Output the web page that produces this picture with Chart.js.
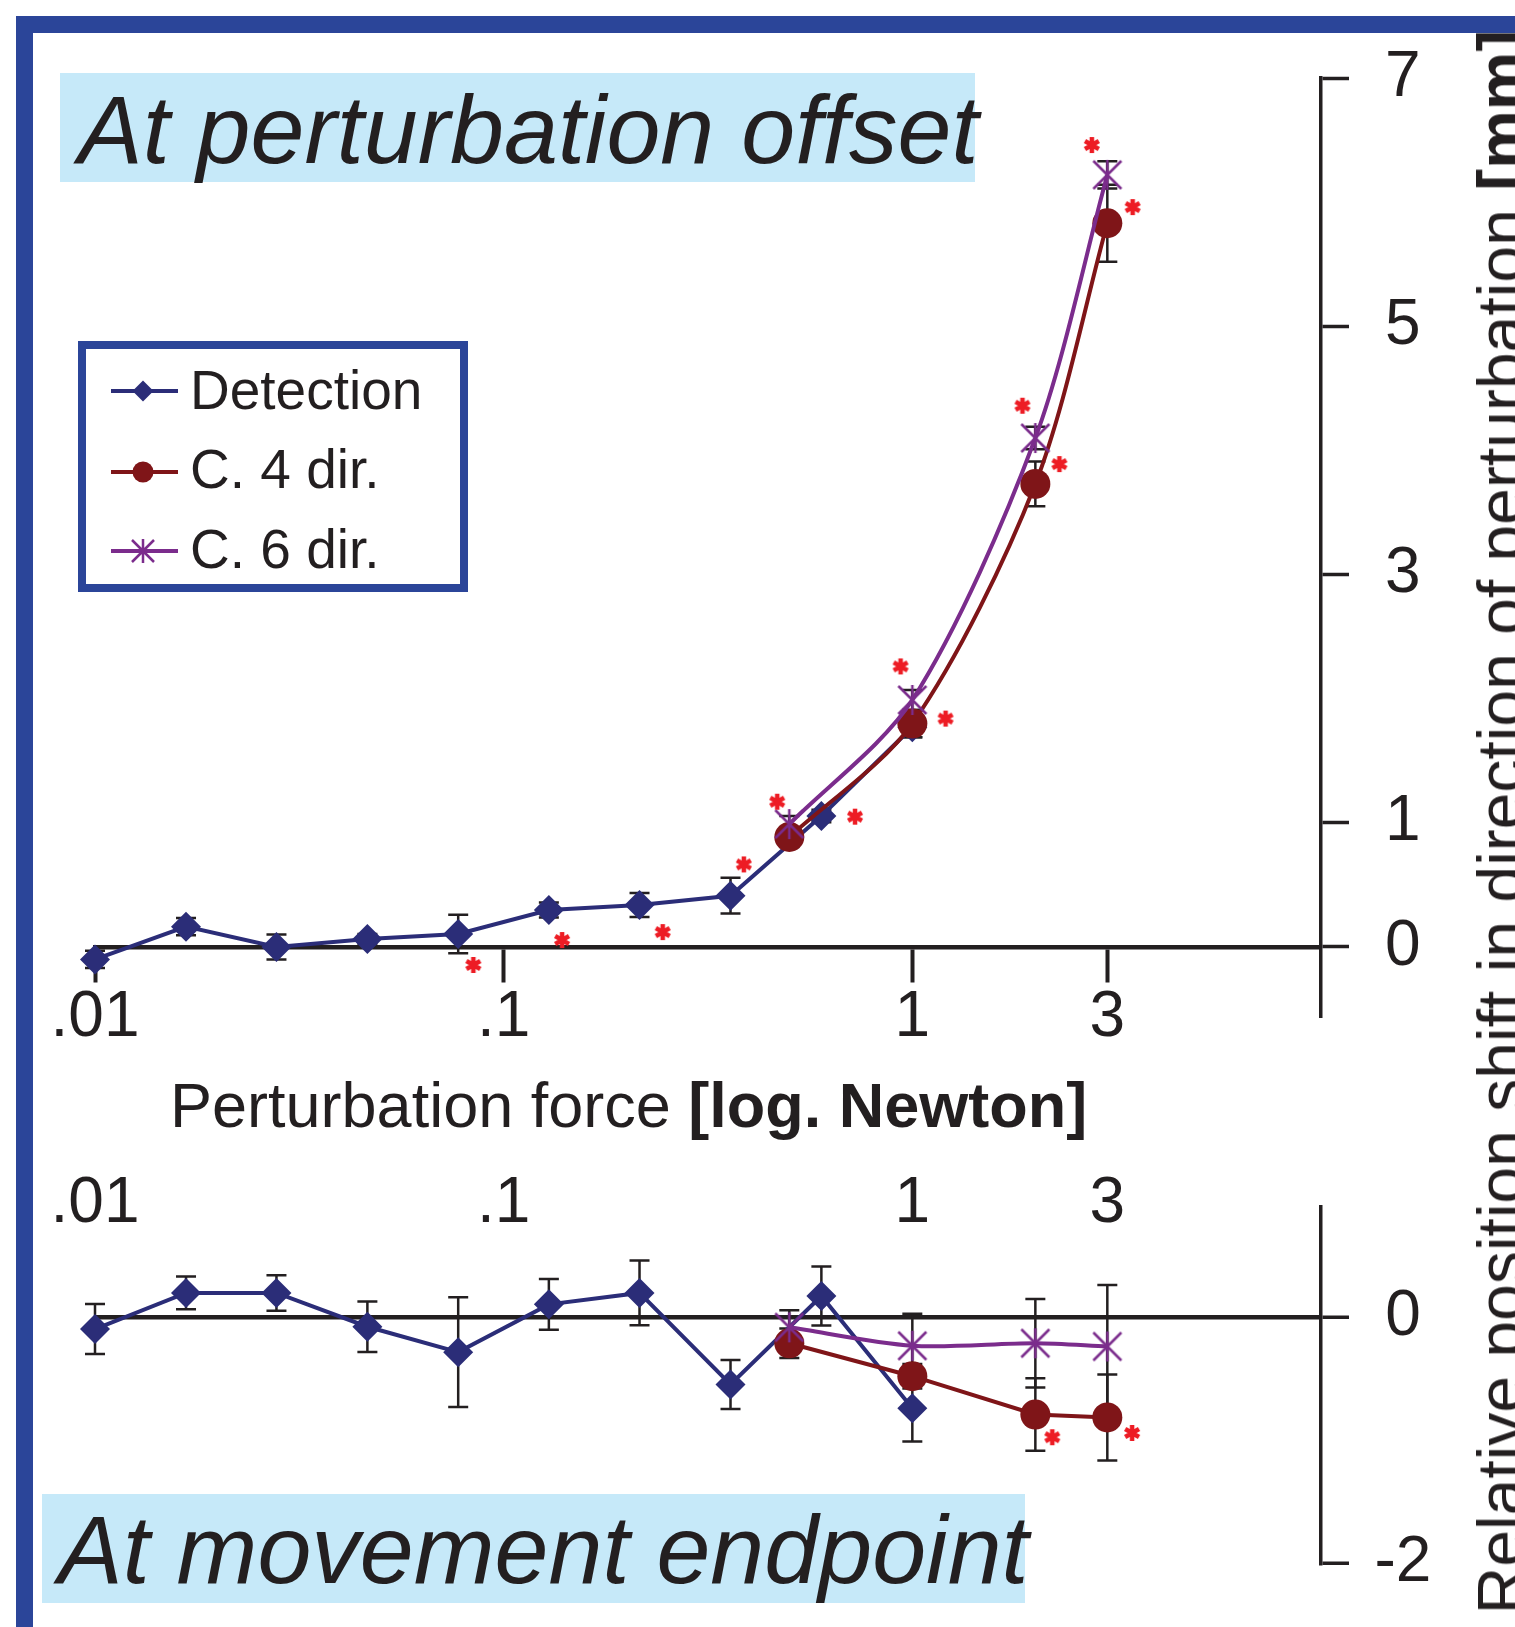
<!DOCTYPE html>
<html>
<head>
<meta charset="UTF-8">
<title>Position shift by perturbation force</title>
<style>
	html, body { margin:0; padding:0; background:#fff; }
	body { width:1515px; height:1627px; position:relative; overflow:hidden; font-family:'Liberation Sans', Arial, sans-serif; color:#231f20; }
	canvas { position:absolute; left:0; top:0; }
	.frameTop { position:absolute; left:16px; top:16px; width:1499px; height:17px; background:#2b4599; }
	.frameLeft { position:absolute; left:16px; top:16px; width:17px; height:1611px; background:#2b4599; }
	.titleBox { position:absolute; background:#c6e9f9; }
	.titleText { position:absolute; font-style:italic; font-size:97px; line-height:97px; white-space:nowrap; }
	.legendBox { position:absolute; left:78px; top:341px; width:390px; height:251px; border:8px solid #2b4599; box-sizing:border-box; background:#fff; }
	.legendMark { position:absolute; }
	.legendText { position:absolute; left:190px; font-size:55px; line-height:55px; white-space:nowrap; }
	.xTitle { position:absolute; left:170px; top:1074px; font-size:63px; line-height:63px; white-space:nowrap; }
	.yTitle { position:absolute; left:1501px; top:822px; font-size:66px; line-height:66px; white-space:nowrap; transform:translate(-50%,-50%) rotate(-90deg); }
</style>
</head>
<body>
	<div class="frameTop"></div>
	<div class="frameLeft"></div>

	<canvas id="offsetChart" width="1515" height="1627"></canvas>
	<canvas id="endChart" width="1515" height="1627"></canvas>

	<div class="titleBox" style="left:60px; top:73px; width:915px; height:109px;"></div>
	<div class="titleText" style="left:78px; top:81px;">At perturbation offset</div>
	<div class="titleBox" style="left:42px; top:1494px; width:983px; height:109px;"></div>
	<div class="titleText" style="left:58px; top:1501px;">At movement endpoint</div>

	<!-- legend -->
	<div class="legendBox"></div>
	<svg class="legendMark" style="left:110px; top:376px;" width="70" height="30">
		<line x1="1" y1="15" x2="68" y2="15" stroke="#2b2d78" stroke-width="4"/>
		<polygon points="33,4.5 43.5,15 33,25.5 22.5,15" fill="#2b2d78"/>
	</svg>
	<svg class="legendMark" style="left:110px; top:457px;" width="70" height="30">
		<line x1="1" y1="15" x2="68" y2="15" stroke="#7f1518" stroke-width="4"/>
		<circle cx="33" cy="15" r="10.5" fill="#7f1518"/>
	</svg>
	<svg class="legendMark" style="left:110px; top:536px;" width="70" height="30">
		<line x1="1" y1="15" x2="68" y2="15" stroke="#7b2c8c" stroke-width="4"/>
		<path d="M22 4 L44 26 M44 4 L22 26 M33 3 L33 27" stroke="#7b2c8c" stroke-width="2.5"/>
	</svg>
	<div class="legendText" style="top:363px;">Detection</div>
	<div class="legendText" style="top:442px;">C. 4 dir.</div>
	<div class="legendText" style="top:522px;">C. 6 dir.</div>

	<div class="xTitle">Perturbation force <b>[log. Newton]</b></div>
	<div class="yTitle">Relative position shift in direction of perturbation <b>[mm]</b></div>

<script src="https://cdn.jsdelivr.net/npm/chart.js@4.4.1/dist/chart.umd.min.js"></script>
<script type="text/javascript">
// forces [N]
const forceDet = [0.01, 0.0167, 0.0278, 0.0464, 0.0774, 0.129, 0.215, 0.359, 0.599, 1];
const forceComp = [0.5, 1, 2, 3];
const xTicks = [0.01, 0.1, 1, 3];
const xTickLabels = ['.01', '.1', '1', '3'];
const yTicksOffset = [0, 1, 3, 5, 7];
const yTicksEnd = [-2, 0];

// at perturbation offset [mm]
const detOffset = [-0.10, 0.164, 0.0, 0.064, 0.105, 0.298, 0.338, 0.413, 1.055, 1.77];
const detOffsetErr = [0.07, 0.07, 0.1, 0.04, 0.155, 0.06, 0.097, 0.144, 0.05, 0.08];
const c4Offset = [0.886, 1.80, 3.73, 5.83];
const c4OffsetErr = [0.08, 0.11, 0.18, 0.31];
const c6Offset = [0.99, 1.99, 4.10, 6.22];
const c6OffsetErr = [0.065, 0.08, 0.09, 0.11];
const sigOffsetX = [0.0843, 0.139, 0.245, 0.387, 0.467, 0.724, 0.936, 1.206, 1.86, 2.29, 2.75, 3.46];
const sigOffsetY = [-0.145, 0.056, 0.12, 0.665, 1.17, 1.05, 2.26, 1.84, 4.36, 3.89, 6.46, 5.96];

// at movement endpoint [mm]
const detEnd = [-0.094, 0.20, 0.20, -0.075, -0.282, 0.107, 0.20, -0.545, 0.175, -0.739];
const detEndErr = [0.204, 0.133, 0.145, 0.205, 0.447, 0.207, 0.264, 0.2, 0.24, 0.27];
const c4End = [-0.21, -0.478, -0.79, -0.814];
const c4EndErr = [0.12, 0.1, 0.295, 0.35];
const c6End = [-0.08, -0.23, -0.21, -0.236];
const c6EndErr = [0.14, 0.26, 0.36, 0.5];
const sigEndX = [2.2, 3.45];
const sigEndY = [-0.975, -0.94];

const navy = '#2b2d78', darkRed = '#7f1518', purple = '#7b2c8c', ink = '#231f20';

Chart.defaults.font.family = "'Liberation Sans', Arial, sans-serif";
Chart.defaults.color = ink;

function pts(xs, ys) {
	return xs.map((x, i) => ({x: x, y: ys[i]}));
}

// excel style star marker: X plus vertical bar
function makeStar(color) {
	let c = document.createElement('canvas');
	c.width = 32; c.height = 32;
	let g = c.getContext('2d');
	g.strokeStyle = color;
	g.lineWidth = 2.5;
	g.beginPath();
	g.moveTo(2, 2); g.lineTo(30, 30);
	g.moveTo(30, 2); g.lineTo(2, 30);
	g.moveTo(16, 1); g.lineTo(16, 31);
	g.stroke();
	return c;
}
// red significance asterisk
function makeAsterisk(color) {
	let c = document.createElement('canvas');
	c.width = 20; c.height = 20;
	let g = c.getContext('2d');
	g.strokeStyle = color;
	g.lineWidth = 4.5;
	g.beginPath();
	[90, 30, 150].forEach(function(a) {
		let r = a * Math.PI / 180;
		g.moveTo(10 + 8 * Math.cos(r), 10 - 8 * Math.sin(r));
		g.lineTo(10 - 8 * Math.cos(r), 10 + 8 * Math.sin(r));
	});
	g.stroke();
	return c;
}
const starImg = makeStar(purple);
const astImg = makeAsterisk('#ed1c24');

// vertical error bars with caps, drawn under the markers
const errorBars = {
	id: 'errorBars',
	beforeDatasetsDraw(chart) {
		let ctx = chart.ctx;
		ctx.save();
		ctx.strokeStyle = ink;
		ctx.lineWidth = 2.5;
		chart.data.datasets.forEach(function(ds, i) {
			if (!ds.errors) return;
			let meta = chart.getDatasetMeta(i);
			let yScale = chart.scales[meta.yAxisID];
			meta.data.forEach(function(pt, j) {
				let v = ds.data[j].y, e = ds.errors[j];
				let top = yScale.getPixelForValue(v + e);
				let bot = yScale.getPixelForValue(v - e);
				ctx.beginPath();
				ctx.moveTo(pt.x, top); ctx.lineTo(pt.x, bot);
				ctx.moveTo(pt.x - 10, top); ctx.lineTo(pt.x + 10, top);
				ctx.moveTo(pt.x - 10, bot); ctx.lineTo(pt.x + 10, bot);
				ctx.stroke();
			});
		});
		ctx.restore();
	}
};

function lineSet(label, xs, ys, errs, color, style, radius, tension, order) {
	return {
		label: label,
		data: pts(xs, ys),
		errors: errs,
		borderColor: color,
		backgroundColor: color,
		borderWidth: 4,
		pointStyle: style,
		pointRadius: radius,
		pointBackgroundColor: color,
		pointBorderColor: color,
		pointBorderWidth: 0,
		tension: tension,
		order: order,
		clip: false
	};
}
function sigSet(xs, ys) {
	return { label: 'p', data: pts(xs, ys), showLine: false, pointStyle: astImg, order: 0, clip: false };
}

const tickFont = { size: 64 };

// upper panel
new Chart(document.getElementById('offsetChart'), {
	type: 'line',
	data: {
		datasets: [
			lineSet('Detection', forceDet, detOffset, detOffsetErr, navy, 'rectRot', 15, 0, 3),
			lineSet('C. 4 dir.', forceComp, c4Offset, c4OffsetErr, darkRed, 'circle', 15, 0.3, 2),
			lineSet('C. 6 dir.', forceComp, c6Offset, c6OffsetErr, purple, starImg, 15, 0.3, 1),
			sigSet(sigOffsetX, sigOffsetY)
		]
	},
	options: {
		responsive: false,
		animation: false,
		events: [],
		layout: { padding: { left: 95, top: 78, right: 14, bottom: 610 } },
		plugins: { legend: { display: false }, tooltip: { enabled: false } },
		scales: {
			x: {
				type: 'logarithmic', min: 0.01, max: 10,
				position: { y: 0 },
				afterBuildTicks: function(s) { s.ticks = xTicks.map(v => ({value: v})); },
				ticks: { font: tickFont, padding: 0, autoSkip: false, maxRotation: 0, minRotation: 0,
					callback: function(v, i) { return xTickLabels[i]; } },
				grid: { drawOnChartArea: false, drawTicks: true, tickLength: 33, tickWidth: 4, tickColor: ink },
				border: { display: true, color: ink, width: 4.5 }
			},
			y: {
				type: 'linear', position: 'right', min: -0.564, max: 7,
				afterBuildTicks: function(s) { s.ticks = yTicksOffset.map(v => ({value: v})); },
				afterFit: function(s) { s.width = 180; },
				ticks: { font: tickFont, padding: 36, crossAlign: 'center', callback: v => String(v) },
				grid: { drawOnChartArea: false, drawTicks: true, tickLength: 28, tickWidth: 3.5, tickColor: ink },
				border: { display: true, color: ink, width: 3.5 }
			}
		}
	},
	plugins: [errorBars]
});

// lower panel
new Chart(document.getElementById('endChart'), {
	type: 'line',
	data: {
		datasets: [
			lineSet('Detection', forceDet, detEnd, detEndErr, navy, 'rectRot', 15, 0, 3),
			lineSet('C. 4 dir.', forceComp, c4End, c4EndErr, darkRed, 'circle', 15, 0, 2),
			lineSet('C. 6 dir.', forceComp, c6End, c6EndErr, purple, starImg, 15, 0.3, 1),
			sigSet(sigEndX, sigEndY)
		]
	},
	options: {
		responsive: false,
		animation: false,
		events: [],
		layout: { padding: { left: 95, top: 1207, right: 14, bottom: 60 } },
		plugins: { legend: { display: false }, tooltip: { enabled: false } },
		scales: {
			x: {
				type: 'logarithmic', min: 0.01, max: 10,
				position: { y: 1.236 },
				afterBuildTicks: function(s) { s.ticks = xTicks.map(v => ({value: v})); },
				ticks: { font: tickFont, padding: 0, autoSkip: false, maxRotation: 0, minRotation: 0,
					callback: function(v, i) { return xTickLabels[i]; } },
				grid: { drawOnChartArea: false, drawTicks: false },
				border: { display: false }
			},
			y: {
				type: 'linear', position: 'right', min: -2, max: 0.9,
				afterBuildTicks: function(s) { s.ticks = yTicksEnd.map(v => ({value: v})); },
				afterFit: function(s) { s.width = 180; },
				ticks: { font: tickFont, padding: 25.5, crossAlign: 'center', callback: v => String(v) },
				grid: {
					drawOnChartArea: true,
					color: c => (c.tick && c.tick.value === 0) ? ink : 'rgba(0,0,0,0)',
					lineWidth: 4.5,
					drawTicks: true, tickLength: 28, tickWidth: 3.5, tickColor: ink
				},
				border: { display: true, color: ink, width: 3.5 }
			}
		}
	},
	plugins: [errorBars]
});
</script>
</body>
</html>
